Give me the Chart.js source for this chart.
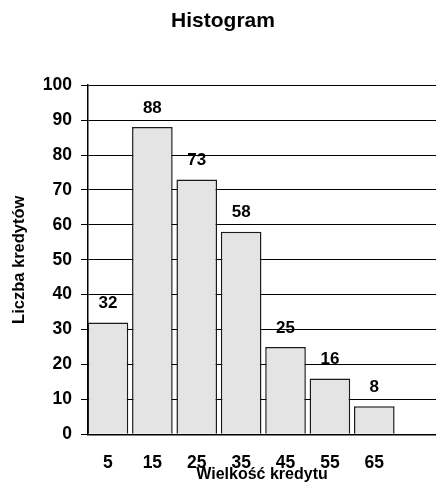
<!DOCTYPE html>
<html>
<head>
<meta charset="utf-8">
<script src="https://cdn.jsdelivr.net/npm/chart.js@4/dist/chart.umd.min.js"></script>
<style>
  html, body { margin: 0; padding: 0; background: #ffffff; }
  canvas { display: block; }
</style>
</head>
<body>
<canvas id="hist" width="436" height="483"></canvas>
<script>
// Bin centres (credit size) and number of credits in each bin
const bins = [5, 15, 25, 35, 45, 55, 65];
const counts = [32, 88, 73, 58, 25, 16, 8];
// Value axis ticks
const yTicks = [0, 10, 20, 30, 40, 50, 60, 70, 80, 90, 100];

const FONT = '"Liberation Sans", Arial, Helvetica, sans-serif';

// Writes each bar's count above it
const valueLabels = {
  id: 'valueLabels',
  afterDatasetsDraw(chart) {
    const ctx = chart.ctx;
    const meta = chart.getDatasetMeta(0);
    ctx.save();
    ctx.font = 'bold 17px ' + FONT;
    ctx.fillStyle = '#000';
    ctx.textAlign = 'center';
    ctx.textBaseline = 'alphabetic';
    meta.data.forEach((bar, i) => {
      ctx.fillText(String(counts[i]), bar.x, bar.y - 14.5);
    });
    ctx.restore();
  }
};

new Chart(document.getElementById('hist'), {
  type: 'bar',
  data: {
    datasets: [{
      data: bins.map((b, i) => ({ x: b, y: counts[i] })),
      backgroundColor: '#e4e4e4',
      borderColor: '#1a1a1a',
      borderWidth: 1.5,
      barPercentage: 0.915,
      categoryPercentage: 1.0
    }]
  },
  options: {
    responsive: false,
    devicePixelRatio: 1,
    animation: false,
    layout: { padding: { left: 10, right: 0, top: 0, bottom: 0 } },
    plugins: {
      legend: { display: false },
      tooltip: { enabled: false },
      title: {
        display: true,
        text: 'Histogram',
        color: '#000',
        font: { family: FONT, size: 21, weight: 'bold', lineHeight: 1.2 },
        padding: { top: 9, bottom: 51 }
      }
    },
    scales: {
      x: {
        type: 'linear',
        offset: false,
        min: 0.5,
        max: 78.9,
        afterBuildTicks: s => { s.ticks = bins.map(v => ({ value: v })); },
        afterFit: s => { s.height = 48.7; },
        grid: { display: false, drawTicks: false },
        border: { display: true, color: '#000', width: 1.5 },
        ticks: {
          padding: 18,
          color: '#000',
          maxRotation: 0,
          autoSkip: false,
          font: { family: FONT, size: 17.5, weight: 'bold' },
          callback: v => String(v)
        },
        title: {
          display: true,
          text: 'Wielkość kredytu',
          color: '#000',
          font: { family: FONT, size: 16, weight: 'bold', lineHeight: 1.2 },
          padding: { top: 0, bottom: -1.1 }
        }
      },
      y: {
        min: 0,
        max: 100,
        afterBuildTicks: s => { s.ticks = yTicks.map(v => ({ value: v })); },
        afterFit: s => { s.width = 78; },
        grid: { color: '#000', lineWidth: 1, tickLength: 7, tickColor: '#000' },
        border: { display: true, color: '#000', width: 1.5 },
        ticks: {
          padding: 9,
          color: '#000',
          font: { family: FONT, size: 17.5, weight: 'bold' }
        },
        title: {
          display: true,
          text: 'Liczba kredytów',
          color: '#000',
          font: { family: FONT, size: 16.5, weight: 'bold', lineHeight: 1.2 },
          padding: { top: 0, bottom: 0 }
        }
      }
    }
  },
  plugins: [valueLabels]
});
</script>
</body>
</html>
